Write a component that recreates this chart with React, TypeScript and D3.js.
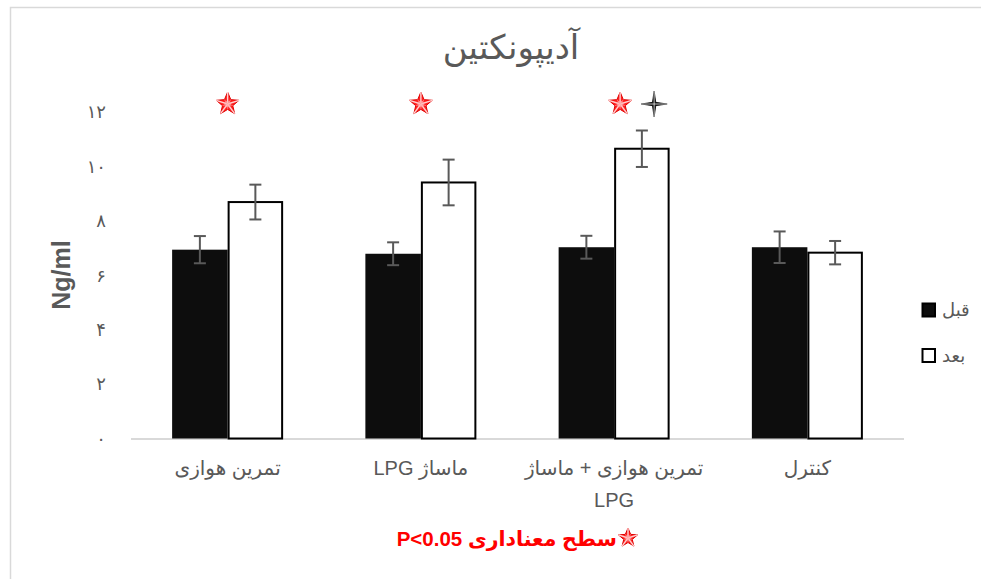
import React from "react";
import * as d3 from "d3";

// Adiponectin (Ng/ml) before/after, per study group
const categories = ["تمرین هوازی", "ماساژ LPG", "تمرین هوازی + ماساژ LPG", "کنترل"];
const categoryLines = [["تمرین هوازی"], ["ماساژ LPG"], ["تمرین هوازی + ماساژ", "LPG"], ["کنترل"]];
const seriesNames = ["قبل", "بعد"];
const beforeValues = [6.94, 6.79, 7.03, 7.03];
const afterValues = [8.69, 9.41, 10.65, 6.83];
const beforeErrors = [0.5, 0.42, 0.42, 0.58];
const afterErrors = [0.64, 0.84, 0.67, 0.43];
const yTicks = [0, 2, 4, 6, 8, 10, 12];
const yTickLabels = ["۰", "۲", "۴", "۶", "۸", "۱۰", "۱۲"];
// significance markers above groups: red star = p<0.05 vs before, cross star = vs control
const sigStar = [true, true, true, false];
const sigCross = [false, false, true, false];

const W = 981;
const H = 579;
const GRAY = "#595959";
const FONT = "'Liberation Sans', 'DejaVu Sans', sans-serif";

function starPoints(cx: number, cy: number, ro: number, ri: number, n: number, rot = -Math.PI / 2) {
  const pts: [number, number][] = [];
  for (let i = 0; i < n * 2; i++) {
    const r = i % 2 === 0 ? ro : ri;
    const a = rot + (i * Math.PI) / n;
    pts.push([cx + r * Math.cos(a), cy + r * Math.sin(a)]);
  }
  return pts;
}

function RedStar({ cx, cy, r }: { cx: number; cy: number; r: number }) {
  const pts = starPoints(cx, cy, r, r * 0.45, 5);
  const line = d3.line();
  return (
    <g>
      <path d={line(pts) + "Z"} fill="#ff2020" stroke="#e00000" strokeWidth={1} />
      {pts.map((p, i) => (
        <line key={i} x1={cx} y1={cy} x2={p[0]} y2={p[1]} stroke={i % 2 === 0 ? "#ffd0d0" : "#ff8080"} strokeWidth={i % 2 === 0 ? 1.4 : 0.8} />
      ))}
      <circle cx={cx} cy={cy} r={r * 0.28} fill="#ffb0b0" opacity={0.6} />
    </g>
  );
}

function CrossStar({ cx, cy, r }: { cx: number; cy: number; r: number }) {
  const pts = starPoints(cx, cy, r, r * 0.18, 4);
  const line = d3.line();
  return (
    <g>
      <path d={line(pts) + "Z"} fill="#111" stroke="#000" strokeWidth={0.8} />
      {pts.filter((_, i) => i % 2 === 0).map((p, i) => (
        <line key={i} x1={cx} y1={cy} x2={p[0]} y2={p[1]} stroke="#fff" strokeWidth={0.9} opacity={0.8} />
      ))}
    </g>
  );
}

export default function App() {
  const y = d3.scaleLinear().domain([0, 12]).range([438.5, 112]);
  const x = d3.scaleBand<string>().domain(categories).range([131, 904]).padding(0);
  const barW = 55.5;
  const xs = d3.scaleBand<string>().domain(seriesNames).range([-barW, barW]).padding(0);
  const values = [beforeValues, afterValues];
  const errors = [beforeErrors, afterErrors];
  const cx = (c: string) => (x(c) as number) + x.bandwidth() / 2;

  return (
    <div style={{ position: "absolute", left: 0, top: 0 }}>
      <svg width={W} height={H} style={{ display: "block" }}>
        <rect x={0} y={0} width={W} height={H} fill="#fff" />
        <rect x={10.5} y={7.5} width={W + 10} height={H + 10} fill="none" stroke="#d9d9d9" strokeWidth={1.5} />

        <text x={511} y={59} textAnchor="middle" fontFamily={FONT} fontSize={34} fill={GRAY} direction="rtl">
          آدیپونکتین
        </text>

        {yTicks.map((t, i) => (
          <text key={t} x={106} y={y(t)} dy="0.35em" textAnchor="end" fontFamily={FONT} fontSize={18} fill={GRAY}>
            {yTickLabels[i]}
          </text>
        ))}

        <text
          transform={`translate(70,${275}) rotate(-90)`}
          textAnchor="middle"
          fontFamily="'Liberation Sans', Arial, sans-serif"
          fontWeight="bold"
          fontSize={25}
          fill={GRAY}
        >
          Ng/ml
        </text>

        <line x1={131} x2={904} y1={y(0) + 0.5} y2={y(0) + 0.5} stroke="#d9d9d9" strokeWidth={2} />

        {categories.map((c, ci) =>
          seriesNames.map((s, si) => {
            const v = values[si][ci];
            const bx = cx(c) + (xs(s) as number);
            return (
              <rect
                key={c + s}
                x={si === 1 ? bx + 1 : bx}
                y={y(v)}
                width={si === 1 ? barW - 2 : barW}
                height={y(0) - y(v)}
                fill={si === 0 ? "#0d0d0d" : "#fff"}
                stroke={si === 0 ? "none" : "#000"}
                strokeWidth={2}
              />
            );
          })
        )}

        {categories.map((c, ci) =>
          seriesNames.map((s, si) => {
            const v = values[si][ci];
            const e = errors[si][ci];
            const ex = cx(c) + (xs(s) as number) + barW / 2;
            return (
              <g key={"e" + c + s} stroke={GRAY} strokeWidth={2}>
                <line x1={ex} x2={ex} y1={y(v + e)} y2={y(v - e)} />
                <line x1={ex - 6} x2={ex + 6} y1={y(v + e)} y2={y(v + e)} />
                <line x1={ex - 6} x2={ex + 6} y1={y(v - e)} y2={y(v - e)} />
              </g>
            );
          })
        )}

        {categories.map((c, ci) => {
          const both = sigStar[ci] && sigCross[ci];
          const center = cx(c);
          return (
            <g key={"sig" + c}>
              {sigStar[ci] && <RedStar cx={both ? center + 6 : center} cy={104} r={12} />}
              {sigCross[ci] && <CrossStar cx={center + 40} cy={104} r={13} />}
            </g>
          );
        })}

        {categoryLines.map((lines, ci) => (
          <text key={"xl" + ci} textAnchor="middle" fontFamily={FONT} fontSize={20} fill={GRAY} direction="rtl">
            {lines.map((l, li) => (
              <tspan key={li} x={cx(categories[ci])} y={475 + li * 32}>
                {l}
              </tspan>
            ))}
          </text>
        ))}

        {seriesNames.map((s, si) => (
          <g key={"lg" + s} transform={`translate(922,${303 + si * 45.5})`}>
            <rect x={0.5} y={0.5} width={12.5} height={13} fill={si === 0 ? "#0d0d0d" : "#fff"} stroke="#000" strokeWidth={2} />
            <text x={20} y={7} dy="0.35em" textAnchor="start" fontFamily={FONT} fontSize={18} fill={GRAY}>
              {s}
            </text>
          </g>
        ))}

        <text x={617} y={546} textAnchor="end" fontFamily={FONT} fontWeight="bold" fontSize={20.5} fill="#ff0000">
          P&lt;0.05 سطح معناداری
        </text>
        <RedStar cx={628} cy={538} r={10} />
      </svg>
    </div>
  );
}
